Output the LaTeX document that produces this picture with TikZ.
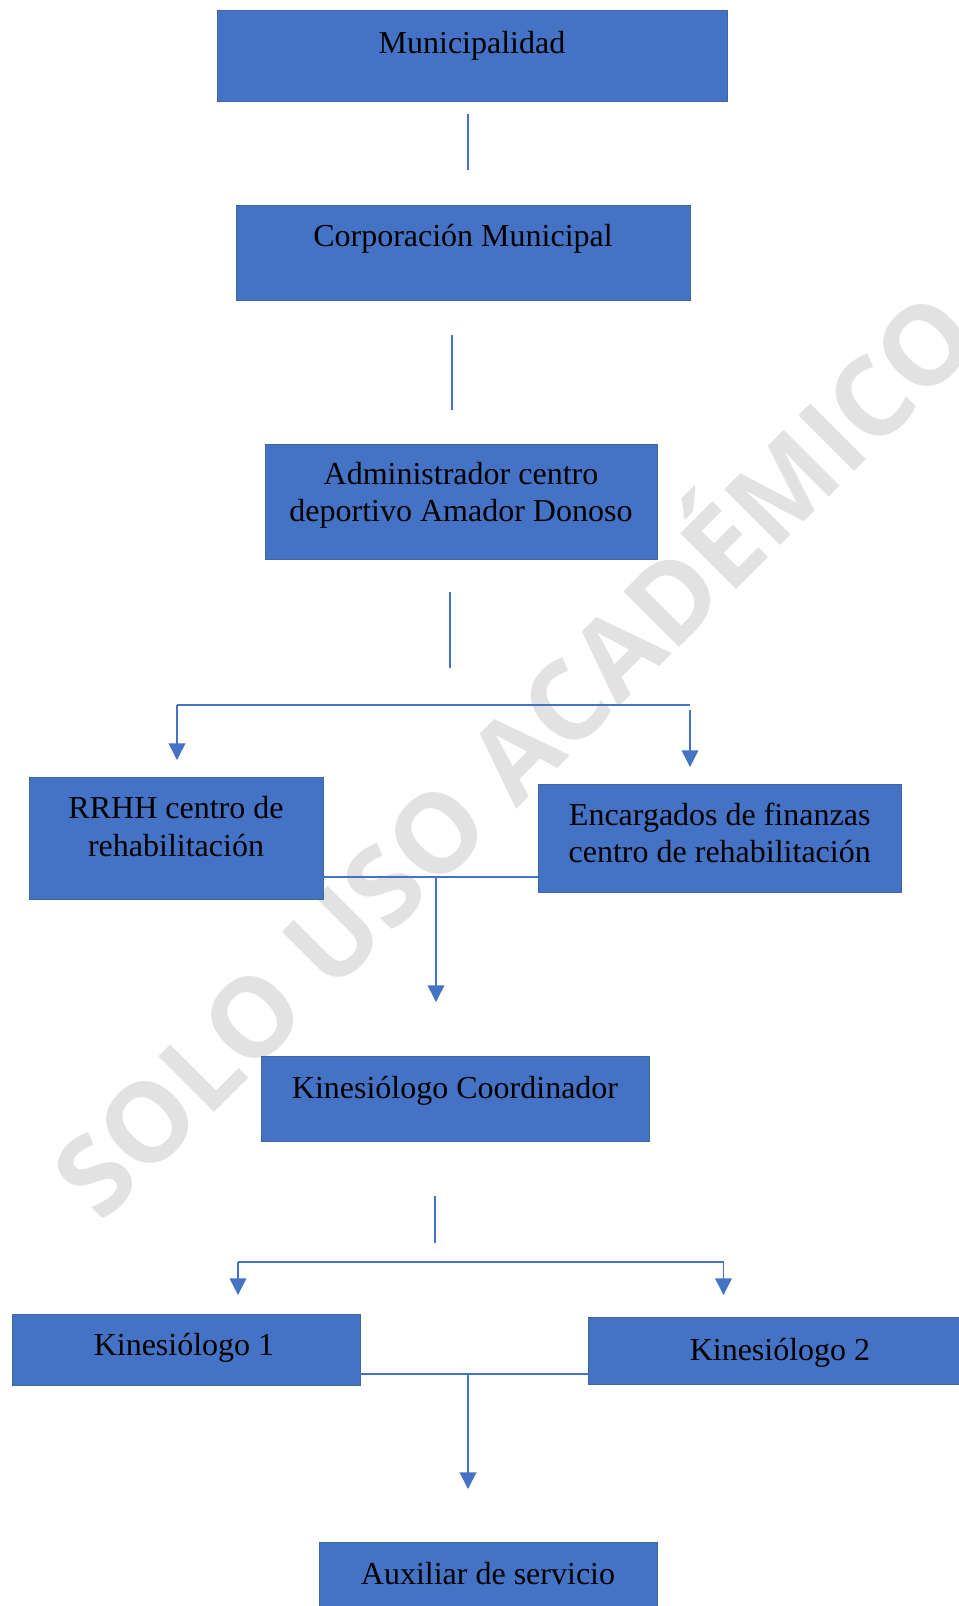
\documentclass[tikz,border=0pt]{standalone}
\usepackage{fontspec}
\setmainfont{Liberation Serif}
\newfontfamily\wmfont{Open Sans}
\usetikzlibrary{arrows.meta}
\definecolor{boxblue}{HTML}{4472C4}
\definecolor{boxedge}{HTML}{41689C}
\definecolor{linkblue}{HTML}{4472C4}
\definecolor{wmgray}{HTML}{E2E2E2}
\newcommand\orgbox[5]{\node[boxst, minimum width={(#4-#2)*0.75pt}, minimum height={(#5-#3)*0.75pt}] (#1) at ({(#2+#4)/2},{(#3+#5)/2}) {};}
\newlength\wmSO \newlength\wmUpto \newlength\wmI \newlength\wmCap
\begin{document}
\setbox0\hbox{\wmfont\bfseries\fontsize{100}{110}\selectfont SO}\global\wmSO=\wd0
\setbox0\hbox{\wmfont\bfseries\fontsize{100}{110}\selectfont SOLO USO ACADÉM}\global\wmUpto=\wd0
\setbox0\hbox{\wmfont\bfseries\fontsize{100}{110}\selectfont I}\global\wmI=\wd0
\setbox0\hbox{\wmfont\bfseries\fontsize{100}{110}\selectfont L}\global\wmCap=\ht0
\pgfmathsetmacro\wmd{(\wmUpto+0.5*\wmI)-(\wmSO+16)}
\pgfmathsetmacro\wmk{906*0.75/\wmd}
\pgfmathsetmacro\wmF{100*\wmk}
\pgfmathsetmacro\wmm{\wmk*(\wmSO+16+\wmUpto+0.5*\wmI)/2/0.75}
\pgfmathsetmacro\wmc{\wmk*\wmCap/0.75}
\pgfmathsetmacro\wmPx{511.75-\wmm*0.70711+0.5*\wmc*0.70711}
\pgfmathsetmacro\wmPy{758.75+\wmm*0.70711+0.5*\wmc*0.70711}
\begin{tikzpicture}[x=0.75pt,y=-0.75pt,
  boxst/.style={draw=boxedge, fill=boxblue, line width=0.7pt, inner sep=0pt},
  txt/.style={anchor=base, inner sep=0pt, font=\fontsize{24}{28}\selectfont},
  link/.style={draw=linkblue, line width=1.1pt},
  arr/.style={link, -{Triangle[width=12.5pt,length=12.5pt]}},
  wm/.style={text=wmgray, rotate=45, anchor=base west, inner sep=0pt, font=\wmfont\bfseries\fontsize{\wmF}{\wmF}\selectfont}]
\useasboundingbox (0,0) rectangle (959,1606);
\fill[white] (0,0) rectangle (959,1606);
% watermark
\node[wm] (wmark) at (\wmPx,\wmPy) {SOLO USO ACADÉMICO};
% boxes
\orgbox{mun}{217}{10}{727}{101}
\orgbox{corp}{236}{205}{690}{300}
\orgbox{adm}{265}{444}{657}{559}
\orgbox{rrhh}{29.5}{777}{323}{899}
\orgbox{fin}{538.5}{784}{901}{892}
\orgbox{coord}{261}{1056}{649}{1141}
\orgbox{kone}{12}{1314}{360}{1385}
\orgbox{ktwo}{588.5}{1317}{972}{1384}
\orgbox{aux}{319.5}{1542}{657.5}{1625}
% texts
\node[txt] (munT) at (472,53.3) {Municipalidad};
\node[txt] (corpT) at (463,246) {Corporación Municipal};
\node[txt] (admTa) at (461,484.3) {Administrador centro};
\node[txt] (admTb) at (461,521.7) {deportivo Amador Donoso};
\node[txt] (rrhhTa) at (176,818.3) {RRHH centro de};
\node[txt] (rrhhTb) at (176,856.7) {rehabilitación};
\node[txt] (finTa) at (719.7,825) {Encargados de finanzas};
\node[txt] (finTb) at (719.7,862.3) {centro de rehabilitación};
\node[txt] (coordT) at (455,1098.3) {Kinesiólogo Coordinador};
\node[txt] (koneT) at (184,1355) {Kinesiólogo 1};
\node[txt] (ktwoT) at (780,1360) {Kinesiólogo 2};
\node[txt] (auxT) at (488,1584) {Auxiliar de servicio};
% connector coordinates
\coordinate (a1) at (468,114); \coordinate (a2) at (468,170);
\coordinate (b1) at (452,335); \coordinate (b2) at (452,410);
\coordinate (c1) at (450,592); \coordinate (c2) at (450,668);
\coordinate (busL) at (177,705); \coordinate (busR) at (690,705);
\coordinate (busRa) at (690,710);
\coordinate (tipL) at (177,760); \coordinate (tipR) at (690,767);
\coordinate (midA) at (436,877); \coordinate (tipA) at (436,1002);
\coordinate (d1) at (435,1196); \coordinate (d2) at (435,1243);
\coordinate (bus2L) at (238,1262); \coordinate (bus2R) at (723.5,1262);
\coordinate (tip2L) at (238,1295); \coordinate (tip2R) at (723.5,1295);
\coordinate (midB) at (468,1374); \coordinate (tipB) at (468,1489);
% connectors
\draw[link] (a1) -- (a2);
\draw[link] (b1) -- (b2);
\draw[link] (c1) -- (c2);
\draw[link] (busL) -- (busR);
\draw[arr] (busL) -- (tipL);
\draw[arr] (busRa) -- (tipR);
\draw[link] (rrhh.east |- midA) -- (fin.west |- midA);
\draw[arr] (midA) -- (tipA);
\draw[link] (d1) -- (d2);
\draw[link] (bus2L) -- (bus2R);
\draw[arr] (bus2L) -- (tip2L);
\draw[arr] (bus2R) -- (tip2R);
\draw[link] (kone.east |- midB) -- (ktwo.west |- midB);
\draw[arr] (midB) -- (tipB);
\end{tikzpicture}
\end{document}
